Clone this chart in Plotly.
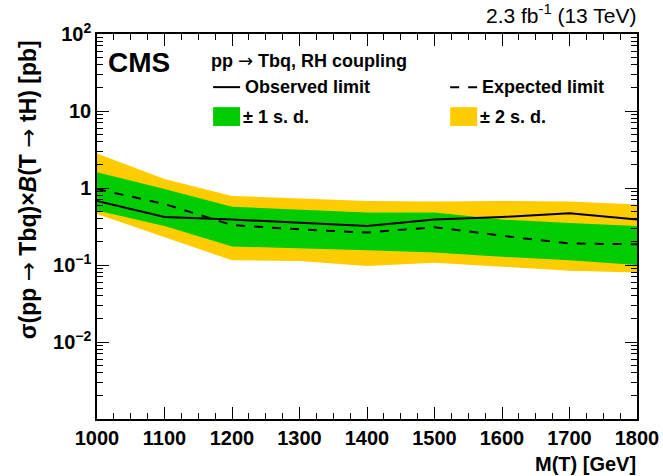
import plotly.graph_objects as go

mass = [1000, 1100, 1200, 1300, 1400, 1500, 1600, 1700, 1800]
observed = [0.68, 0.42, 0.39, 0.35, 0.32, 0.39, 0.42, 0.47, 0.39]
expected = [0.97, 0.62, 0.33, 0.29, 0.264, 0.31, 0.24, 0.19, 0.186]
sd1_up = [1.6, 0.97, 0.57, 0.52, 0.48, 0.48, 0.39, 0.35, 0.32]
sd1_dn = [0.51, 0.32, 0.174, 0.165, 0.155, 0.145, 0.128, 0.115, 0.10]
sd2_up = [2.8, 1.31, 0.79, 0.74, 0.68, 0.67, 0.68, 0.67, 0.61]
sd2_dn = [0.46, 0.23, 0.115, 0.113, 0.097, 0.107, 0.095, 0.084, 0.08]

y_tickvals = [0.01, 0.1, 1, 10, 100]
y_ticktext = ["10<sup>−2</sup>", "10<sup>−1</sup>", "1", "10", "10<sup>2</sup>"]
y_minor = [m * 10.0 ** e for e in range(-3, 2) for m in range(2, 10)]

GREEN = "#00cc00"
YELLOW = "#ffcc00"
FONT = "Liberation Sans"
ARROW = '<span style="font-family:DejaVu Sans;font-weight:normal">→</span>'

fig = go.Figure()
fig.add_trace(go.Scatter(x=mass + mass[::-1], y=sd2_up + sd2_dn[::-1], fill="toself",
                         fillcolor=YELLOW, line=dict(width=0), mode="lines", hoverinfo="skip"))
fig.add_trace(go.Scatter(x=mass + mass[::-1], y=sd1_up + sd1_dn[::-1], fill="toself",
                         fillcolor=GREEN, line=dict(width=0), mode="lines", hoverinfo="skip"))
fig.add_trace(go.Scatter(x=mass, y=expected, mode="lines",
                         line=dict(color="black", width=2, dash="dash")))
fig.add_trace(go.Scatter(x=mass, y=observed, mode="lines",
                         line=dict(color="black", width=2)))

axis_common = dict(showline=True, linecolor="black", linewidth=1.5, mirror="allticks",
                   ticks="inside", tickcolor="black", ticklen=12, tickwidth=1.2,
                   showgrid=False, zeroline=False, automargin=False,
                   ticklabeloverflow="allow",
                   tickfont=dict(family=FONT, size=20, color="black", weight="bold"))

fig.update_xaxes(range=[1000, 1800], dtick=100, tick0=1000,
                 minor=dict(ticks="inside", ticklen=6, dtick=25, tick0=1000,
                            tickcolor="black", tickwidth=1.2),
                 **axis_common)
fig.update_yaxes(type="log", range=[-3, 2], tickmode="array",
                 tickvals=y_tickvals, ticktext=y_ticktext,
                 minor=dict(ticks="inside", ticklen=6, tickmode="array", tickvals=y_minor,
                            tickcolor="black", tickwidth=1.2),
                 **axis_common)

ann = []
ann.append(dict(text="2.3 fb<sup>-1</sup> (13 TeV)", x=1.0, y=1.0, xref="paper", yref="paper",
                xanchor="right", yanchor="bottom", yshift=5, xshift=1, showarrow=False,
                font=dict(family=FONT, size=21, color="black")))
ann.append(dict(text="M(T) [GeV]", x=1.0, y=0, xref="paper", yref="paper",
                xanchor="right", yanchor="top", yshift=-32, xshift=1, showarrow=False,
                font=dict(family=FONT, size=20, color="black", weight="bold")))
ann.append(dict(text="σ(pp " + ARROW + " Tbq)×<i>B</i>(T " + ARROW + " tH) [pb]",
                x=-0.128, y=0.99,
                xref="paper", yref="paper", xanchor="center", yanchor="top",
                textangle=-90, showarrow=False,
                font=dict(family=FONT, size=23, color="black", weight="bold")))
ann.append(dict(text="CMS", x=0.016, y=0.927, xref="paper", yref="paper",
                xanchor="left", yanchor="middle", showarrow=False,
                font=dict(family=FONT, size=28, color="black", weight="bold")))
ann.append(dict(text="pp " + ARROW + " Tbq, RH coupling", x=0.208, y=0.93,
                xref="paper", yref="paper",
                xanchor="left", yanchor="middle", showarrow=False,
                font=dict(family=FONT, size=18, color="black", weight="bold")))
ann.append(dict(text="Observed limit", x=0.27, y=0.862, xref="paper", yref="paper",
                xanchor="left", yanchor="middle", showarrow=False,
                font=dict(family=FONT, size=18, color="black", weight="bold")))
ann.append(dict(text="Expected limit", x=0.709, y=0.862, xref="paper", yref="paper",
                xanchor="left", yanchor="middle", showarrow=False,
                font=dict(family=FONT, size=18, color="black", weight="bold")))
ann.append(dict(text="± 1 s. d.", x=0.266, y=0.785, xref="paper", yref="paper",
                xanchor="left", yanchor="middle", showarrow=False,
                font=dict(family=FONT, size=18, color="black", weight="bold")))
ann.append(dict(text="± 2 s. d.", x=0.705, y=0.785, xref="paper", yref="paper",
                xanchor="left", yanchor="middle", showarrow=False,
                font=dict(family=FONT, size=18, color="black", weight="bold")))

shapes = [
    dict(type="line", xref="paper", yref="paper", x0=0.215, x1=0.265, y0=0.862, y1=0.862,
         line=dict(color="black", width=2)),
    dict(type="line", xref="paper", yref="paper", x0=0.654, x1=0.704, y0=0.862, y1=0.862,
         line=dict(color="black", width=2, dash="dash")),
    dict(type="rect", xref="paper", yref="paper", x0=0.215, x1=0.265, y0=0.761, y1=0.810,
         fillcolor=GREEN, line=dict(width=0)),
    dict(type="rect", xref="paper", yref="paper", x0=0.654, x1=0.704, y0=0.761, y1=0.810,
         fillcolor=YELLOW, line=dict(width=0)),
]

fig.update_layout(width=663, height=476, margin=dict(l=97, r=26, t=34, b=57),
                  paper_bgcolor="white", plot_bgcolor="white", showlegend=False,
                  annotations=ann, shapes=shapes,
                  font=dict(family=FONT, color="black"))

# remove the default 8px page margin so the figure fills the window exactly
fig.write_html("out.html", config={"displayModeBar": False},
               post_script="document.body.style.margin='0';document.body.style.overflow='hidden';")
